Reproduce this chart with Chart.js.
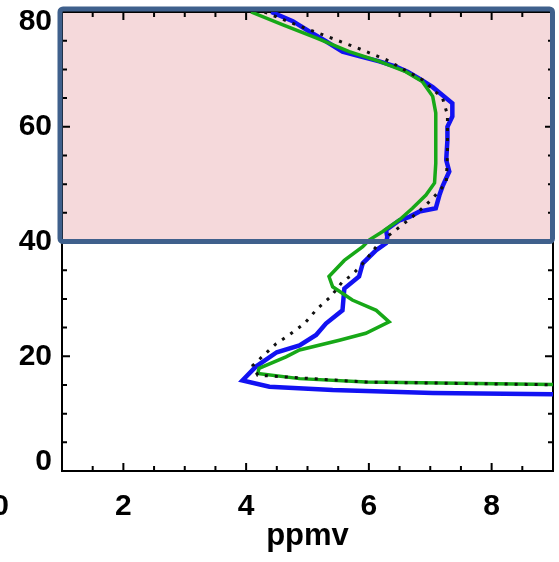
<!DOCTYPE html>
<html>
<head>
<meta charset="utf-8">
<script src="https://cdn.jsdelivr.net/npm/chart.js@4"></script>
<style>
  html, body { margin: 0; padding: 0; background: #fff; }
  #wrap { width: 559px; height: 562px; overflow: hidden; }
</style>
</head>
<body>
<div id="wrap"><canvas id="profile" width="559" height="562"></canvas></div>
<script>
// Water vapour profiles, altitude (km) vs mixing ratio (ppmv)
const blueAlt = [80, 78.4, 76.6, 74.9, 73.1, 72.3, 71.4, 70.5, 69.6, 68.2, 66.9, 64.1, 61.8, 60.0, 57.7, 54.2, 52.2, 49.6, 48.1, 45.8, 45.2, 44.3, 43.7, 42.0, 40.8, 39.7, 38.5, 36.2, 33.9, 31.8, 28.0, 25.7, 23.7, 21.9, 20.7, 18.2, 15.8, 14.7, 14.1, 13.6, 13.35];
const blueVmr = [4.41, 4.76, 5.03, 5.30, 5.57, 5.84, 6.17, 6.44, 6.63, 6.85, 7.04, 7.36, 7.36, 7.28, 7.28, 7.26, 7.31, 7.20, 7.15, 7.09, 6.82, 6.66, 6.50, 6.28, 6.30, 6.28, 6.12, 5.90, 5.84, 5.60, 5.57, 5.30, 5.14, 4.87, 4.50, 4.16, 3.94, 4.38, 5.41, 7.04, 9.2];

const greenAlt = [80, 77.8, 75.5, 73.1, 71.4, 69.6, 67.9, 65.3, 62.4, 56.5, 53.6, 50.2, 48.1, 45.8, 43.8, 41.7, 40.3, 39.1, 36.7, 33.9, 32.1, 29.8, 28.0, 26.0, 24.0, 22.8, 21.1, 19.9, 17.9, 17.0, 16.1, 15.5, 15.05];
const greenVmr = [4.08, 4.59, 5.14, 5.68, 6.17, 6.60, 6.87, 7.04, 7.09, 7.09, 7.09, 7.07, 6.93, 6.71, 6.50, 6.22, 6.01, 5.90, 5.60, 5.35, 5.41, 5.73, 6.12, 6.33, 5.95, 5.52, 4.87, 4.65, 4.21, 4.19, 4.87, 5.95, 9.2];

const aprioriAlt = [80, 77.8, 75.7, 73.7, 71.7, 68.2, 65.0, 62.1, 55.1, 50.2, 47.5, 46.4, 44.3, 43.2, 41.1, 39.1, 36.5, 34.2, 33.0, 30.4, 28.3, 25.7, 23.7, 22.2, 18.4, 16.7, 15.5, 15.0];
const aprioriVmr = [4.30, 4.81, 5.33, 5.82, 6.28, 6.87, 7.20, 7.28, 7.28, 7.26, 7.04, 6.93, 6.71, 6.58, 6.33, 6.12, 5.93, 5.73, 5.57, 5.38, 5.16, 4.95, 4.70, 4.49, 4.11, 4.19, 5.95, 9.2];

const xTicks = [0, 2, 4, 6, 8];
const yTicks = [0, 20, 40, 60, 80];
const shadedAlt = [40, 80];

const FONT = 'Liberation Sans, Arial, Helvetica, sans-serif';

function toPoints(xs, ys) {
  return xs.map((v, i) => ({ x: v, y: ys[i] }));
}

// pink upper band + black box axes with inward ticks
const framePlugin = {
  id: 'frame',
  beforeDatasetsDraw(chart) {
    const { ctx, chartArea: a, scales: { x, y } } = chart;
    ctx.save();
    const bt = y.getPixelForValue(shadedAlt[1]);
    const bb = y.getPixelForValue(shadedAlt[0]);
    ctx.fillStyle = '#f5d9db';
    ctx.fillRect(a.left, bt, a.right - a.left, bb - bt);

    ctx.strokeStyle = '#000';
    ctx.lineWidth = 2;
    ctx.strokeRect(a.left, a.top, a.right - a.left, a.bottom - a.top);

    ctx.beginPath();
    for (let v = 1.5; v < 9; v += 0.5) {
      const len = v % 2 === 0 ? 8 : 5;
      const px = x.getPixelForValue(v);
      ctx.moveTo(px, a.bottom); ctx.lineTo(px, a.bottom - len);
      ctx.moveTo(px, a.top); ctx.lineTo(px, a.top + len);
    }
    for (let v = 5; v < 80; v += 5) {
      const len = v % 20 === 0 ? 8 : 5;
      const py = y.getPixelForValue(v);
      ctx.moveTo(a.left, py); ctx.lineTo(a.left + len, py);
      ctx.moveTo(a.right, py); ctx.lineTo(a.right - len, py);
    }
    ctx.stroke();
    ctx.restore();
  },
  afterDatasetsDraw(chart) {
    const { ctx, chartArea: a, scales: { y } } = chart;
    const bt = y.getPixelForValue(shadedAlt[1]);
    const bb = y.getPixelForValue(shadedAlt[0]);
    ctx.save();
    ctx.strokeStyle = '#3f608c';
    ctx.lineWidth = 5;
    ctx.lineJoin = 'round';
    ctx.beginPath();
    ctx.roundRect(a.left - 2, bt - 3, a.right - a.left + 1.5, bb - bt + 3, 3);
    ctx.stroke();
    ctx.restore();
  },
  afterDraw(chart) {
    // end labels of the altitude axis are nudged inward, off the corners
    const { ctx, chartArea: a, scales: { y } } = chart;
    ctx.save();
    ctx.font = 'bold 30px ' + FONT;
    ctx.fillStyle = '#000';
    ctx.textAlign = 'right';
    ctx.textBaseline = 'middle';
    ctx.fillText(String(yTicks[0]), a.left - 10, y.getPixelForValue(yTicks[0]) - 9);
    ctx.fillText(String(yTicks[yTicks.length - 1]), a.left - 10, y.getPixelForValue(yTicks[yTicks.length - 1]) + 10);
    ctx.restore();
  }
};

new Chart(document.getElementById('profile'), {
  type: 'scatter',
  data: {
    datasets: [
      {
        label: 'a priori',
        data: toPoints(aprioriVmr, aprioriAlt),
        showLine: true,
        borderColor: '#111',
        borderWidth: 3,
        borderDash: [3, 7],
        pointRadius: 0,
        clip: 0,
        order: 1
      },
      {
        label: 'retrieval 2',
        data: toPoints(greenVmr, greenAlt),
        showLine: true,
        borderColor: '#17a817',
        borderWidth: 3.5,
        pointRadius: 0,
        clip: 0,
        order: 2
      },
      {
        label: 'retrieval 1',
        data: toPoints(blueVmr, blueAlt),
        showLine: true,
        borderColor: '#1212f2',
        borderWidth: 4.5,
        pointRadius: 0,
        clip: 0,
        order: 3
      }
    ]
  },
  options: {
    responsive: false,
    animation: false,
    devicePixelRatio: 1,
    layout: { padding: { top: 12, right: 6, left: 0, bottom: 0 } },
    plugins: { legend: { display: false }, tooltip: { enabled: false } },
    scales: {
      x: {
        type: 'linear',
        min: 1,
        max: 9,
        afterBuildTicks: s => { s.ticks = xTicks.map(v => ({ value: v })); },
        afterFit: s => { s.height = 91; s.paddingLeft = 0; s.paddingRight = 0; },
        grid: { display: false, drawTicks: false },
        border: { display: false },
        ticks: {
          autoSkip: false,
          maxRotation: 0,
          padding: 18,
          color: '#000',
          font: { family: FONT, size: 30, weight: 'bold' }
        },
        title: {
          display: true,
          text: 'ppmv',
          color: '#000',
          font: { family: FONT, size: 31, weight: 'bold' },
          padding: { top: 0, bottom: 7 }
        }
      },
      y: {
        type: 'linear',
        min: 0,
        max: 80,
        afterBuildTicks: s => { s.ticks = yTicks.map(v => ({ value: v })); },
        afterFit: s => { s.width = 62; s.paddingTop = 0; s.paddingBottom = 0; },
        grid: { display: false, drawTicks: false },
        border: { display: false },
        ticks: {
          padding: 10,
          color: '#000',
          font: { family: FONT, size: 30, weight: 'bold' },
          callback: v => (v === 0 || v === 80 ? '' : v)
        }
      }
    }
  },
  plugins: [framePlugin]
});
</script>
</body>
</html>
